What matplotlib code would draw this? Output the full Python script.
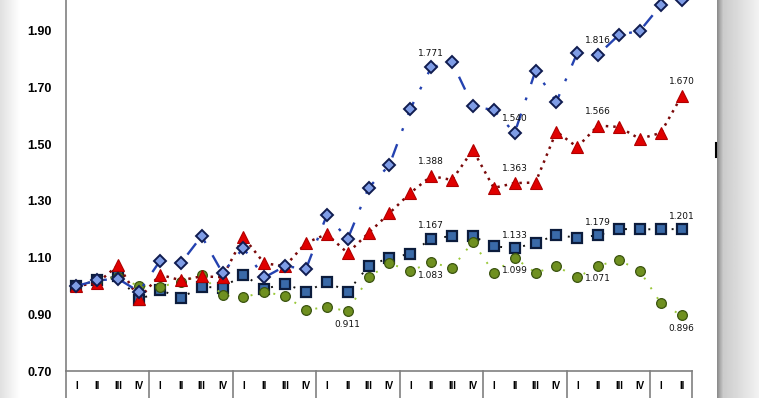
import numpy as np
import matplotlib
matplotlib.use("Agg")
import matplotlib.pyplot as plt
import matplotlib.transforms as mtransforms


# -------------------------------
# DATA
# -------------------------------
quarters = ["I", "II", "III", "IV"] * 7 + ["I", "II"]

blue_vals = [1.000, 1.020, 1.025, 0.980, 1.088, 1.080, 1.176, 1.046, 1.134, 1.030,
             1.070, 1.060, 1.250, 1.166, 1.346, 1.427, 1.625, 1.771, 1.790, 1.635,
             1.620, 1.540, 1.759, 1.650, 1.822, 1.816, 1.886, 1.900, 1.990, 2.010]

red_vals = [1.000, 1.010, 1.074, 0.954, 1.040, 1.020, 1.034, 1.031, 1.173, 1.080,
            1.070, 1.152, 1.183, 1.116, 1.187, 1.257, 1.328, 1.388, 1.374, 1.480,
            1.346, 1.363, 1.365, 1.545, 1.490, 1.566, 1.561, 1.519, 1.540, 1.670]

square_vals = [1.000, 1.020, 1.035, 0.950, 0.986, 0.958, 0.997, 0.994, 1.040, 0.990,
               1.007, 0.980, 1.014, 0.980, 1.070, 1.100, 1.113, 1.167, 1.176, 1.176,
               1.140, 1.133, 1.152, 1.180, 1.170, 1.179, 1.201, 1.200, 1.200, 1.201]

green_vals = [1.000, 1.020, 1.030, 1.000, 0.997, 1.015, 1.038, 0.968, 0.960, 0.979,
              0.965, 0.915, 0.926, 0.911, 1.030, 1.080, 1.053, 1.083, 1.064, 1.155,
              1.047, 1.099, 1.047, 1.070, 1.030, 1.071, 1.092, 1.053, 0.940, 0.896]

labelled = [17, 21, 25, 29]
green_labelled = [13, 17, 21, 25, 29]
blue_labelled = [17, 21, 25]

y_ticks = [0.70, 0.90, 1.10, 1.30, 1.50, 1.70, 1.90]


# -------------------------------
# FIGURE
# -------------------------------
W, H = 759, 398
fig = plt.figure(figsize=(W / 100, H / 100), dpi=100)
fig.patch.set_facecolor("white")

# left soft shadow
bg_left = fig.add_axes([0, 0, 20 / W, 1])
grad = np.linspace(0.88, 1.0, 50).reshape(1, -1)
bg_left.imshow(grad, aspect="auto", cmap="gray", vmin=0, vmax=1, extent=[0, 1, 0, 1])
bg_left.axis("off")

# right shadow
bg_right = fig.add_axes([717 / W, 0, 42 / W, 1])
grad_r = np.concatenate([np.linspace(0.55, 0.8, 8), np.linspace(0.8, 0.95, 42)]).reshape(1, -1)
bg_right.imshow(grad_r, aspect="auto", cmap="gray", vmin=0, vmax=1, extent=[0, 1, 0, 1])
bg_right.axis("off")
fig.add_artist(plt.Line2D([716 / W, 716 / W], [1 - 157 / H, 1 - 143 / H],
                          color="black", lw=1.5, transform=fig.transFigure))

ax = fig.add_axes([66 / W, 27 / H, 626 / W, 371 / H])
ax.set_facecolor("white")

x = np.arange(len(quarters)) + 0.5

# square series
ax.plot(x, square_vals, color="#111111", lw=1.4, linestyle=(0, (1, 5)),
        marker="s", ms=6.5, mfc="#3a6aa8", mec="#0c1c3c", mew=1.6, zorder=3)
# green series
ax.plot(x, green_vals, color="#9ac83a", lw=1.4, linestyle=(0, (1, 5)),
        marker="o", ms=7, mfc="#6f9020", mec="#3b5410", mew=0.9, zorder=4)
# red series
ax.plot(x, red_vals, color="#7a0a0a", lw=1.8, linestyle=(0, (1, 2)),
        marker="^", ms=8, mfc="#e00000", mec="#b00000", mew=0.8, zorder=5)
# blue series
ax.plot(x, blue_vals, color="#2442b0", lw=1.7, linestyle=(0, (6, 6, 1.2, 6)),
        marker="D", ms=6, mfc="#7f9de6", mec="#101c50", mew=1.4, zorder=6)

# data labels
lbl_kw = dict(fontsize=6.5, color="#111111", ha="center", zorder=10)
for i in blue_labelled:
    ax.annotate(f"{blue_vals[i]:.3f}", (x[i], blue_vals[i]), xytext=(0, 7),
                textcoords="offset points", va="bottom", **lbl_kw)
for i in labelled:
    ax.annotate(f"{red_vals[i]:.3f}", (x[i], red_vals[i]), xytext=(0, 7),
                textcoords="offset points", va="bottom", **lbl_kw)
    ax.annotate(f"{square_vals[i]:.3f}", (x[i], square_vals[i]), xytext=(0, 6),
                textcoords="offset points", va="bottom", **lbl_kw)
for i in green_labelled:
    ax.annotate(f"{green_vals[i]:.3f}", (x[i], green_vals[i]), xytext=(0, -6),
                textcoords="offset points", va="top", **lbl_kw)

# axes
ax.set_xlim(0, len(quarters))
ax.set_ylim(0.70, 2.009)
ax.set_yticks(y_ticks)
ax.set_yticklabels([f"{v:.2f}" for v in y_ticks], fontsize=9, fontweight="bold",
                   family="Liberation Sans")
ax.tick_params(axis="y", length=0, pad=10)
ax.set_xticks([])
for s in ["top", "right"]:
    ax.spines[s].set_visible(False)
ax.spines["left"].set_color("#808080")
ax.spines["bottom"].set_color("#808080")
ax.spines["left"].set_linewidth(1.2)
ax.spines["bottom"].set_linewidth(1.2)

# category axis below the plot
trans = mtransforms.blended_transform_factory(ax.transData, ax.transAxes)
depth = -27 / 371
for g in list(range(0, len(quarters), 4)) + [len(quarters)]:
    ax.plot([g, g], [0, depth], color="#808080", lw=1.2, transform=trans,
            clip_on=False)
for xi, q in zip(x, quarters):
    ax.text(xi, -15 / 371, q, transform=trans, ha="center", va="center",
            fontsize=7, fontweight="bold", family="Liberation Sans")

fig.savefig("out.png", dpi=100)
